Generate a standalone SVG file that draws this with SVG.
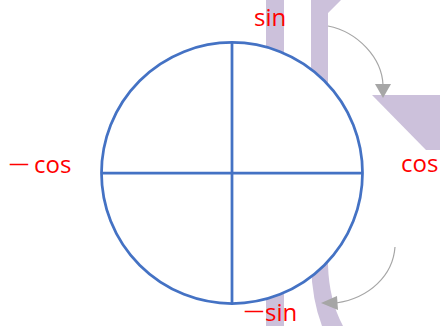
<svg xmlns="http://www.w3.org/2000/svg" width="440" height="326" viewBox="0 0 440 326">
  <style>
    .bg { fill: #ccc1db; stroke: none; }
    .ax { stroke: #4472c4; stroke-width: 2.75; fill: none; }
    .lbl { font-family: "Open Sans", "Liberation Sans", sans-serif; font-size: 24px; fill: #ff0000; }
    .conn { stroke: #a6a6a6; stroke-width: 1.2; fill: none; }
    .head { fill: #a6a6a6; stroke: none; }
  </style>
  <rect width="440" height="326" fill="#ffffff"/>
  <g id="background">
    <rect class="bg" x="266" y="0" width="18" height="326"/>
    <path class="bg" d="M311,0 L341,0 L328,13 L328,265 Q329,300 343,326 L322,326 Q312,300 311,265 Z"/>
    <polygon class="bg" points="372,95 440,95 440,150 426,150"/>
  </g>
  <g id="circle">
    <circle cx="232" cy="173" r="130.5" fill="#ffffff" stroke="#4472c4" stroke-width="2.75"/>
    <line class="ax" x1="232" y1="43" x2="232" y2="303"/>
    <line class="ax" x1="101" y1="173" x2="363" y2="173"/>
  </g>
  <g id="label-sin">
    <text class="lbl" x="254" y="26">sin</text>
  </g>
  <g id="label-cos">
    <text class="lbl" x="401" y="172">cos</text>
  </g>
  <g id="label-neg-cos">
    <text class="lbl"><tspan x="9" y="170" font-size="20">—</tspan><tspan x="34" y="173">cos</tspan></text>
  </g>
  <g id="label-neg-sin">
    <text class="lbl"><tspan x="244" y="317" font-size="20">—</tspan><tspan x="265" y="321">sin</tspan></text>
  </g>
  <g id="connectors">
    <path class="conn" d="M328,26 C358,32 382,58 383,85"/>
    <polygon class="head" points="375,84 391,84 383,98"/>
    <path class="conn" d="M395,247 C393,275 370,298 336,303"/>
    <polygon class="head" points="337,296 338,310 321,303"/>
  </g>
</svg>
